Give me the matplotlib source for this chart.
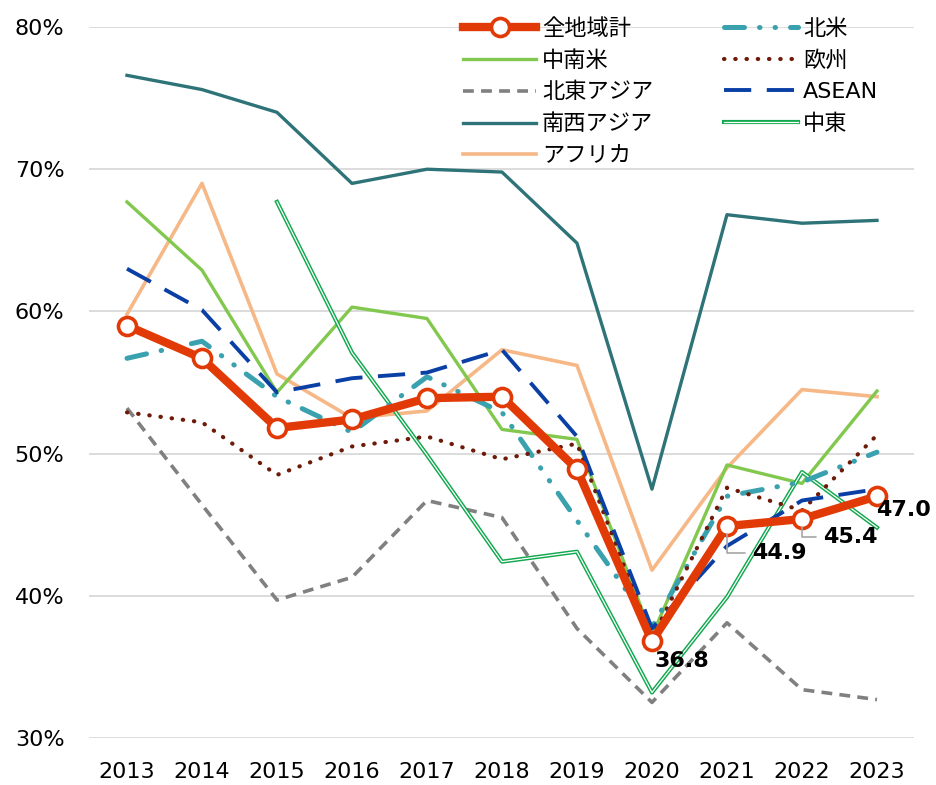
import matplotlib.pyplot as plt
import matplotlib.patheffects as pe

plt.rcParams['font.family'] = ['DejaVu Sans', 'Noto Sans CJK JP']

years = ['2013', '2014', '2015', '2016', '2017', '2018', '2019', '2020', '2021', '2022', '2023']

total = [59.0, 56.7, 51.8, 52.4, 53.9, 54.0, 48.9, 36.8, 44.9, 45.4, 47.0]
north_america = [56.7, 57.9, 54.0, 51.5, 55.4, 52.9, 45.3, 37.8, 47.0, 48.0, 50.1]
latin_america = [67.7, 62.9, 54.3, 60.3, 59.5, 51.7, 51.0, 37.2, 49.2, 47.9, 54.4]
europe = [52.9, 52.2, 48.5, 50.5, 51.2, 49.6, 50.7, 37.0, 47.6, 46.0, 51.3]
ne_asia = [53.2, 46.4, 39.7, 41.3, 46.7, 45.5, 37.7, 32.5, 38.1, 33.4, 32.7]
asean = [63.0, 60.1, 54.3, 55.3, 55.7, 57.3, 51.2, 37.7, 43.5, 46.7, 47.5]
sw_asia = [76.6, 75.6, 74.0, 69.0, 70.0, 69.8, 64.8, 47.5, 66.8, 66.2, 66.4]
middle_east = [None, None, 67.7, 57.1, 49.9, 42.4, 43.1, 33.2, 39.9, 48.7, 44.8]
africa = [59.8, 69.0, 55.6, 52.5, 53.0, 57.3, 56.2, 41.8, 49.0, 54.5, 54.0]

labels = ['全地域計', '中南米', '北東アジア', '南西アジア', 'アフリカ', '北米', '欧州', 'ASEAN', '中東']

fig = plt.figure(figsize=(9.36, 7.85), dpi=100)
ax = fig.add_axes([0.0956, 0.0599, 0.8814, 0.9057])
x = list(range(len(years)))

ax.plot(x, sw_asia, color='#2e7378', lw=2.4, label='南西アジア', zorder=3)
ax.plot(x, africa, color='#f6b886', lw=2.6, label='アフリカ', zorder=3)
ax.plot(x, latin_america, color='#82c84e', lw=2.4, label='中南米', zorder=3)
ax.plot(x, ne_asia, color='#808080', lw=2.6, ls=(0, (3, 2)), label='北東アジア', zorder=3)
me = ax.plot([i for i, v in zip(x, middle_east) if v is not None],
             [v for v in middle_east if v is not None],
             color='white', lw=0.9, label='中東', zorder=3)[0]
me.set_path_effects([pe.Stroke(linewidth=3.0, foreground='#12a84e'), pe.Normal()])
ax.plot(x, north_america, color='#3aa2ae', lw=3.6, ls=(0, (4, 3, 0.1, 3, 0.1, 3)),
        dash_capstyle='round', label='北米', zorder=4)
ax.plot(x, europe, color='#6e1a08', lw=3.0, ls=(0, (0.1, 2.6)),
        dash_capstyle='round', label='欧州', zorder=4)
ax.plot(x, asean, color='#0a3fa6', lw=2.8, ls=(0, (7, 4)), label='ASEAN', zorder=4)
ax.plot(x, total, color='#e23a06', lw=6, marker='o', markersize=13,
        markerfacecolor='white', markeredgecolor='#e23a06', markeredgewidth=2.6,
        label='全地域計', zorder=5)

# data labels
lab_kw = dict(textcoords='offset points', fontsize=16, fontweight='bold',
              ha='left', va='center', zorder=6)
ax.annotate(f'{total[7]:.1f}', (7, total[7]), xytext=(2, -14.5), **lab_kw)
ax.annotate(f'{total[10]:.1f}', (10, total[10]), xytext=(-1, -10), **lab_kw)
for i, off in [(8, (18, -19.5)), (9, (15, -13))]:
    ax.annotate(f'{total[i]:.1f}', (i, total[i]), xytext=off,
                arrowprops=dict(arrowstyle='-', color='#a6a6a6', lw=1.2,
                                connectionstyle='angle,angleA=0,angleB=90,rad=0',
                                shrinkA=3, shrinkB=6),
                **lab_kw)

ax.set_xlim(-0.5, 10.5)
ax.set_ylim(30, 80)
ax.set_xticks(x)
ax.set_xticklabels(years)
ax.set_yticks([30, 40, 50, 60, 70, 80])
ax.set_yticklabels([f'{v}%' for v in [30, 40, 50, 60, 70, 80]])
ax.tick_params(length=0, labelsize=16)
ax.tick_params(axis='y', pad=18)
ax.tick_params(axis='x', pad=17)
ax.grid(axis='y', color='#d9d9d9', lw=1.3)
ax.set_axisbelow(True)
for s in ax.spines.values():
    s.set_visible(False)

handles, labs = ax.get_legend_handles_labels()
order = [labs.index(l) for l in labels]
ax.legend([handles[i] for i in order], [labs[i] for i in order], ncol=2,
          loc='upper left', bbox_to_anchor=(0.4527, 1.013), frameon=False,
          borderaxespad=0, borderpad=0,
          fontsize=16, handlelength=3.3, columnspacing=3.2, labelspacing=0.51,
          handletextpad=0.25)

plt.savefig('out.png', dpi=100)
